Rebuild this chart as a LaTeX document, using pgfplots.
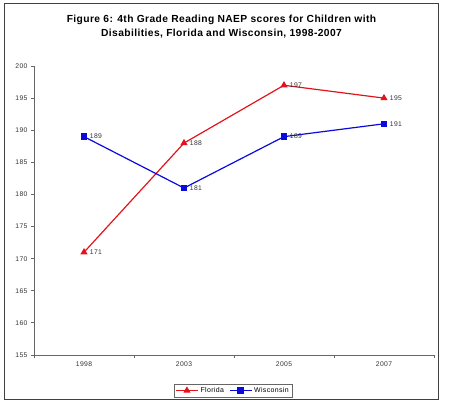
\documentclass[border=0pt]{standalone}
\usepackage{pgfplots}
\pgfplotsset{compat=1.18}
\usepackage{fontspec}
\setmainfont{Liberation Sans}
\newfontfamily\titlefont[LetterSpace=4]{Liberation Sans}
\newfontfamily\spacedfont[LetterSpace=5]{Liberation Sans}
\definecolor{fl}{RGB}{225,20,30}
\definecolor{wi}{RGB}{10,10,220}
\begin{document}
\begin{tikzpicture}
\path (-34bp,-50bp) rectangle (416bp,355bp);
\draw[black!75, line width=0.8bp] (-30bp,-44bp) rectangle (404bp,352bp);
\node[font=\titlefont\bfseries\fontsize{10.3}{14}\selectfont, align=center] at (187.5bp,328bp)
 {Figure 6: 4th Grade Reading NAEP scores for Children with\\Disabilities, Florida and Wisconsin, 1998-2007};
\begin{axis}[
  at={(0,0)}, anchor=south west,
  scale only axis, width=400bp, height=289bp,
  xmin=-0.5, xmax=3.5, ymin=155, ymax=200,
  ytick={155,160,...,200},
  xtick={0,1,2,3}, xticklabels={1998,2003,2005,2007},
  minor xtick={-0.5,0.5,1.5,2.5,3.5},
  axis x line*=bottom, axis y line*=left,
  axis line style={black!60, line width=0.9bp},
  x axis line style={-}, y axis line style={-},
  major x tick style={draw=none},
  minor x tick style={black!60, line width=0.9bp},
  ytick style={black!60, line width=0.9bp},
  tick align=outside,
  major tick length=3bp, minor tick length=3bp,
  /pgf/number format/assume math mode=true,
  /pgf/number format/1000 sep={},
  tick label style={font=\spacedfont\fontsize{6.8}{8}\selectfont, text=black!80},
  nodes near coords,
  every node near coord/.append style={anchor=west, font=\spacedfont\fontsize{6.8}{8}\selectfont, text=black!80, xshift=2bp},
  legend style={at={(0.4975,-0.123)}, anchor=center, legend columns=2,
    font=\spacedfont\fontsize{7}{8}\selectfont, draw=black!60, inner sep=1.5bp,
    /tikz/every even column/.append style={column sep=3bp}},
  legend image code/.code={%
    \draw[mark repeat=2,mark phase=2,#1] plot coordinates {(0bp,0bp) (11bp,0bp) (22bp,0bp)};},
  legend cell align=left,
]
\addplot[fl, line width=1.2bp, mark=triangle*, mark size=3bp, mark options={solid}] coordinates {(0,171) (1,188) (2,197) (3,195)};
\addlegendentry{Florida}
\addplot[wi, line width=1.2bp, mark=square*, mark size=2.6bp] coordinates {(0,189) (1,181) (2,189) (3,191)};
\addlegendentry{Wisconsin}
\end{axis}
\end{tikzpicture}
\end{document}
